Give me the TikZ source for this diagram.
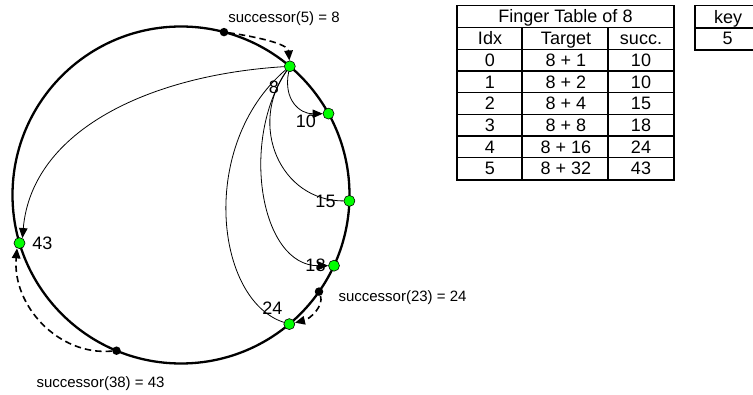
\documentclass[tikz,border=0pt]{standalone}
\usepackage{fontspec}
\setmainfont{Liberation Sans}
\usetikzlibrary{arrows.meta,backgrounds}
\definecolor{peergreen}{RGB}{0,255,0}
\begin{document}
\begin{tikzpicture}[x=1pt,y=-1pt,
  ring/.style={line width=2.3pt},
  fingerline/.style={line width=0.8pt},
  finger/.style={line width=0.8pt,-{Triangle[length=10pt,width=8.5pt]}},
  succarrow/.style={line width=1.6pt,dash pattern=on 6.5pt off 4pt,-{Triangle[length=10pt,width=8.5pt]}},
  peer/.style={circle,fill=peergreen,draw=black,line width=0.6pt,minimum size=11pt,inner sep=0pt},
  keydot/.style={circle,fill=black,minimum size=8.5pt,inner sep=0pt},
  lbl/.style={font=\fontsize{18}{20}\selectfont,inner sep=0pt},
  slbl/.style={font=\fontsize{15}{17}\selectfont,inner sep=0pt},
  tline/.style={line width=1.2pt},
  ttext/.style={font=\fontsize{18}{20}\selectfont,inner sep=0pt,anchor=base}]
\useasboundingbox (0,0) rectangle (753,395);

% peers on the ring
\node[peer] (n8)  at (289.8,66.3) {};
\node[peer] (n10) at (328.5,113.6) {};
\node[peer] (n15) at (349.4,200.9) {};
\node[peer] (n18) at (334.0,265.7) {};
\node[peer] (n24) at (289.3,324.1) {};
\node[peer] (n43) at (19.5,243.1) {};
% keys
\node[keydot] (k5)  at (224.0,32.1) {};
\node[keydot] (k23) at (319.0,291.6) {};
\node[keydot] (k38) at (116.5,350.7) {};

\begin{pgfonlayer}{background}
\draw[ring] (181,195) circle[radius=168.5pt];
\draw[finger] (n8) .. controls (283,100) and (300,114) .. (n10);
\draw[fingerline] (n8) .. controls (248,125) and (280,201) .. (n15);
\draw[finger] (n8) .. controls (240,140) and (260,266) .. (n18);
\draw[fingerline] (n8) .. controls (198,145) and (215,300) .. (n24);
\draw[finger] (n8) .. controls (150,75) and (32,130) .. (n43.60);
\draw[succarrow] (k5) .. controls (258,37) and (288,44) .. (n8);
\draw[succarrow] (k23) .. controls (324,306) and (310,319) .. (n24);
\draw[succarrow] (k38) .. controls (58,356) and (12,305) .. (n43.245);
\end{pgfonlayer}

% peer labels
\node[lbl] (l8)  at (274,87.5) {8};
\node[lbl] (l10) at (306,121.5) {10};
\node[lbl] (l15) at (325.5,201.5) {15};
\node[lbl] (l18) at (315.5,265.5) {18};
\node[lbl] (l24) at (272.5,308) {24};
\node[lbl] (l43) at (42.5,243.5) {43};

% successor labels
\node[slbl] (s5)  at (284,18.5) {successor(5) = 8};
\node[slbl] (s23) at (402.5,297.5) {successor(23) = 24};
\node[slbl] (s38) at (100.5,384) {successor(38) = 43};

% finger table
\draw[tline] (457,5.7) rectangle (674,180);
\foreach \yy in {27.7,49.3,71,92.7,114.3,136,157.7}
  \draw[tline] (457,\yy) -- (674,\yy);
\draw[tline] (522,27.7) -- (522,180);
\draw[tline] (608,27.7) -- (608,180);
\node[ttext] (title) at (565.5,22.5) {Finger Table of 8};
\node[ttext] (h1) at (490,45) {Idx};
\node[ttext] (h2) at (566,45) {Target};
\node[ttext] (h3) at (641,45) {succ.};
\foreach \i/\t/\s/\b in {0/1/10/66.7,1/2/10/88.3,2/4/15/110,3/8/18/131.7,4/16/24/153.3,5/32/43/175}{
  \node[ttext] (r\i a) at (490,\b) {\i};
  \node[ttext] (r\i b) at (566,\b) {8 + \t};
  \node[ttext] (r\i c) at (641,\b) {\s};
}

% key table (cut by the right edge)
\begin{scope}
\clip (0,0) rectangle (753,395);
\draw[tline] (695,5.7) rectangle (761,50);
\draw[tline] (695,28) -- (761,28);
\node[ttext] (keyh) at (728,23.3) {key};
\node[ttext] (keyv) at (727.5,45) {5};
\end{scope}
\end{tikzpicture}
\end{document}
